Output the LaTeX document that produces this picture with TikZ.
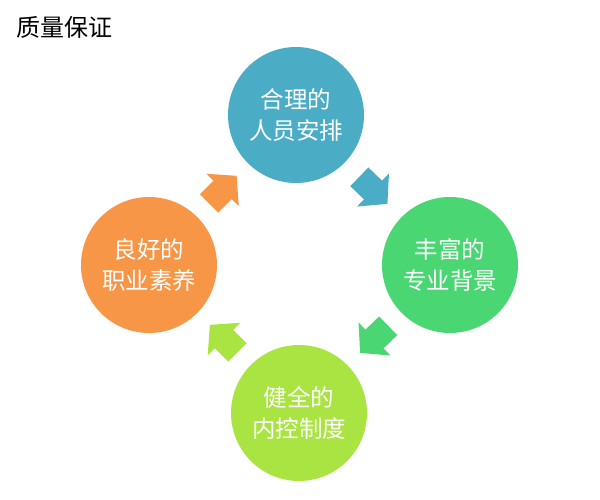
\documentclass[tikz,border=0pt]{standalone}
\usepackage{fontspec}
\setmainfont{Noto Sans CJK SC}
\usetikzlibrary{calc}
\definecolor{cblue}{HTML}{4BACC6}
\definecolor{cgreen}{HTML}{4AD672}
\definecolor{clime}{HTML}{AAE443}
\definecolor{corange}{HTML}{F79646}
\tikzset{
  bubble/.style={circle, minimum size=136pt, inner sep=0pt, text=white,
    align=center, font=\fontsize{23.5pt}{31pt}\selectfont},
}
\newcommand{\blockarrow}[3]{%
  \fill[#1, shift={(#2)}, rotate=#3] (-19,13) -- (0,13) -- (0,23) -- (20,0) -- (0,-23) -- (0,-13) -- (-19,-13) -- cycle;}
\begin{document}
\begin{tikzpicture}[x=1pt, y=-1pt]
\useasboundingbox (0,0) rectangle (600,500);
\node[anchor=west, inner sep=0pt, font=\fontsize{24pt}{28pt}\selectfont] (title) at (16,27) {质量保证};
\node[bubble, fill=cblue] (top) at (296,115) {合理的\\人员安排};
\node[bubble, fill=cgreen] (right) at (450,265) {丰富的\\专业背景};
\node[bubble, fill=clime] (bottom) at (299,413) {健全的\\内控制度};
\node[bubble, fill=corange] (left) at (149,265) {良好的\\职业素养};
\coordinate (m1) at ($(top)!0.5!(right)$);
\coordinate (m2) at ($(right)!0.5!(bottom)$);
\coordinate (m3) at ($(bottom)!0.5!(left)$);
\coordinate (m4) at ($(left)!0.5!(top)$);
\blockarrow{cblue}{m1}{-44}
\blockarrow{cgreen}{m2}{-136}
\blockarrow{clime}{m3}{135}
\blockarrow{corange}{m4}{45}
\end{tikzpicture}
\end{document}
